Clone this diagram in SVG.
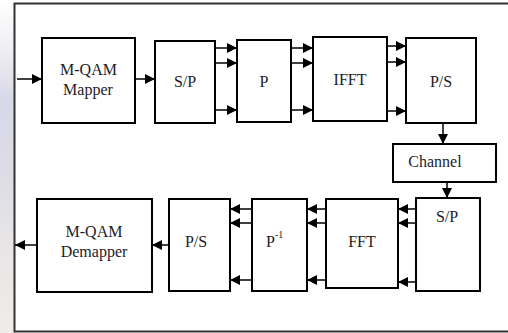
<svg xmlns="http://www.w3.org/2000/svg" width="508" height="333" viewBox="0 0 508 333" font-family="'Liberation Serif', serif">
  <defs>
    <linearGradient id="bgstrip" x1="0" y1="0" x2="0" y2="1">
      <stop offset="0" stop-color="#ffffff"/>
      <stop offset="0.12" stop-color="#f2f2f6"/>
      <stop offset="0.3" stop-color="#d9d8e8"/>
      <stop offset="0.5" stop-color="#dcdbe6"/>
      <stop offset="0.7" stop-color="#e6e4e6"/>
      <stop offset="1" stop-color="#efede8"/>
    </linearGradient>
    <marker id="ah" markerUnits="userSpaceOnUse" markerWidth="11" markerHeight="11" refX="10" refY="5" orient="auto">
      <path d="M0,0 L10,5 L0,10 z" fill="#000"/>
    </marker>
  </defs>
  <style>
    .box { fill: #fff; stroke: #000; stroke-width: 2; }
    .frame { fill: #fff; stroke: #333; stroke-width: 2; }
    .lbl { font-family: 'Liberation Serif', serif; font-size: 16px; fill: #1c1c28; }
    .sup { font-size: 10px; }
    .conn path { fill: none; stroke: #000; stroke-width: 1.5; marker-end: url(#ah); }
  </style>

  <rect x="0" y="0" width="508" height="333" fill="#ffffff"/>
  <rect x="0" y="0" width="14" height="333" fill="url(#bgstrip)"/>
  <rect class="frame" x="14.5" y="3.5" width="500" height="328"/>

  <g id="mapper">
    <rect class="box" x="42" y="38" width="93" height="85"/>
    <text class="lbl" x="88.5" y="75" text-anchor="middle">M-QAM</text>
    <text class="lbl" x="88" y="95" text-anchor="middle">Mapper</text>
  </g>
  <g id="sp1">
    <rect class="box" x="155" y="41" width="60" height="82"/>
    <text class="lbl" x="185" y="87" text-anchor="middle">S/P</text>
  </g>
  <g id="p">
    <rect class="box" x="237" y="40" width="54" height="82"/>
    <text class="lbl" x="264" y="87" text-anchor="middle">P</text>
  </g>
  <g id="ifft">
    <rect class="box" x="313" y="37" width="74" height="84"/>
    <text class="lbl" x="350" y="85" text-anchor="middle">IFFT</text>
  </g>
  <g id="ps1">
    <rect class="box" x="406" y="38" width="70" height="85"/>
    <text class="lbl" x="441" y="87" text-anchor="middle">P/S</text>
  </g>
  <g id="channel">
    <rect class="box" x="393" y="144" width="103" height="38"/>
    <text class="lbl" x="435" y="167" text-anchor="middle">Channel</text>
  </g>
  <g id="sp2">
    <rect class="box" x="416" y="198" width="64" height="93"/>
    <text class="lbl" x="447" y="222" text-anchor="middle">S/P</text>
  </g>
  <g id="fft">
    <rect class="box" x="326" y="199" width="72" height="89"/>
    <text class="lbl" x="362" y="247" text-anchor="middle">FFT</text>
  </g>
  <g id="pinv">
    <rect class="box" x="252" y="199" width="55" height="92"/>
    <text class="lbl" x="266" y="247">P<tspan class="sup" dy="-9">-1</tspan></text>
  </g>
  <g id="ps2">
    <rect class="box" x="169" y="199" width="61" height="92"/>
    <text class="lbl" x="196" y="247" text-anchor="middle">P/S</text>
  </g>
  <g id="demapper">
    <rect class="box" x="37" y="199" width="115" height="93"/>
    <text class="lbl" x="94" y="237" text-anchor="middle">M-QAM</text>
    <text class="lbl" x="94" y="257" text-anchor="middle">Demapper</text>
  </g>

  <g id="connectors" class="conn">
    <path d="M17,79 H42"/>
    <path d="M135,79 H155"/>
    <path d="M215,48 H237"/>
    <path d="M215,63 H237"/>
    <path d="M215,110 H237"/>
    <path d="M291,48 H313"/>
    <path d="M291,63 H313"/>
    <path d="M291,110 H313"/>
    <path d="M387,46 H406"/>
    <path d="M387,62 H406"/>
    <path d="M387,111 H406"/>
    <path d="M443,123 V144"/>
    <path d="M447,182 V198"/>
    <path d="M416,209 H398"/>
    <path d="M416,223 H398"/>
    <path d="M416,282 H398"/>
    <path d="M326,209 H307"/>
    <path d="M326,223 H307"/>
    <path d="M326,280 H307"/>
    <path d="M252,209 H230"/>
    <path d="M252,223 H230"/>
    <path d="M252,280 H230"/>
    <path d="M169,245 H152"/>
    <path d="M37,245 H15"/>
  </g>
</svg>
